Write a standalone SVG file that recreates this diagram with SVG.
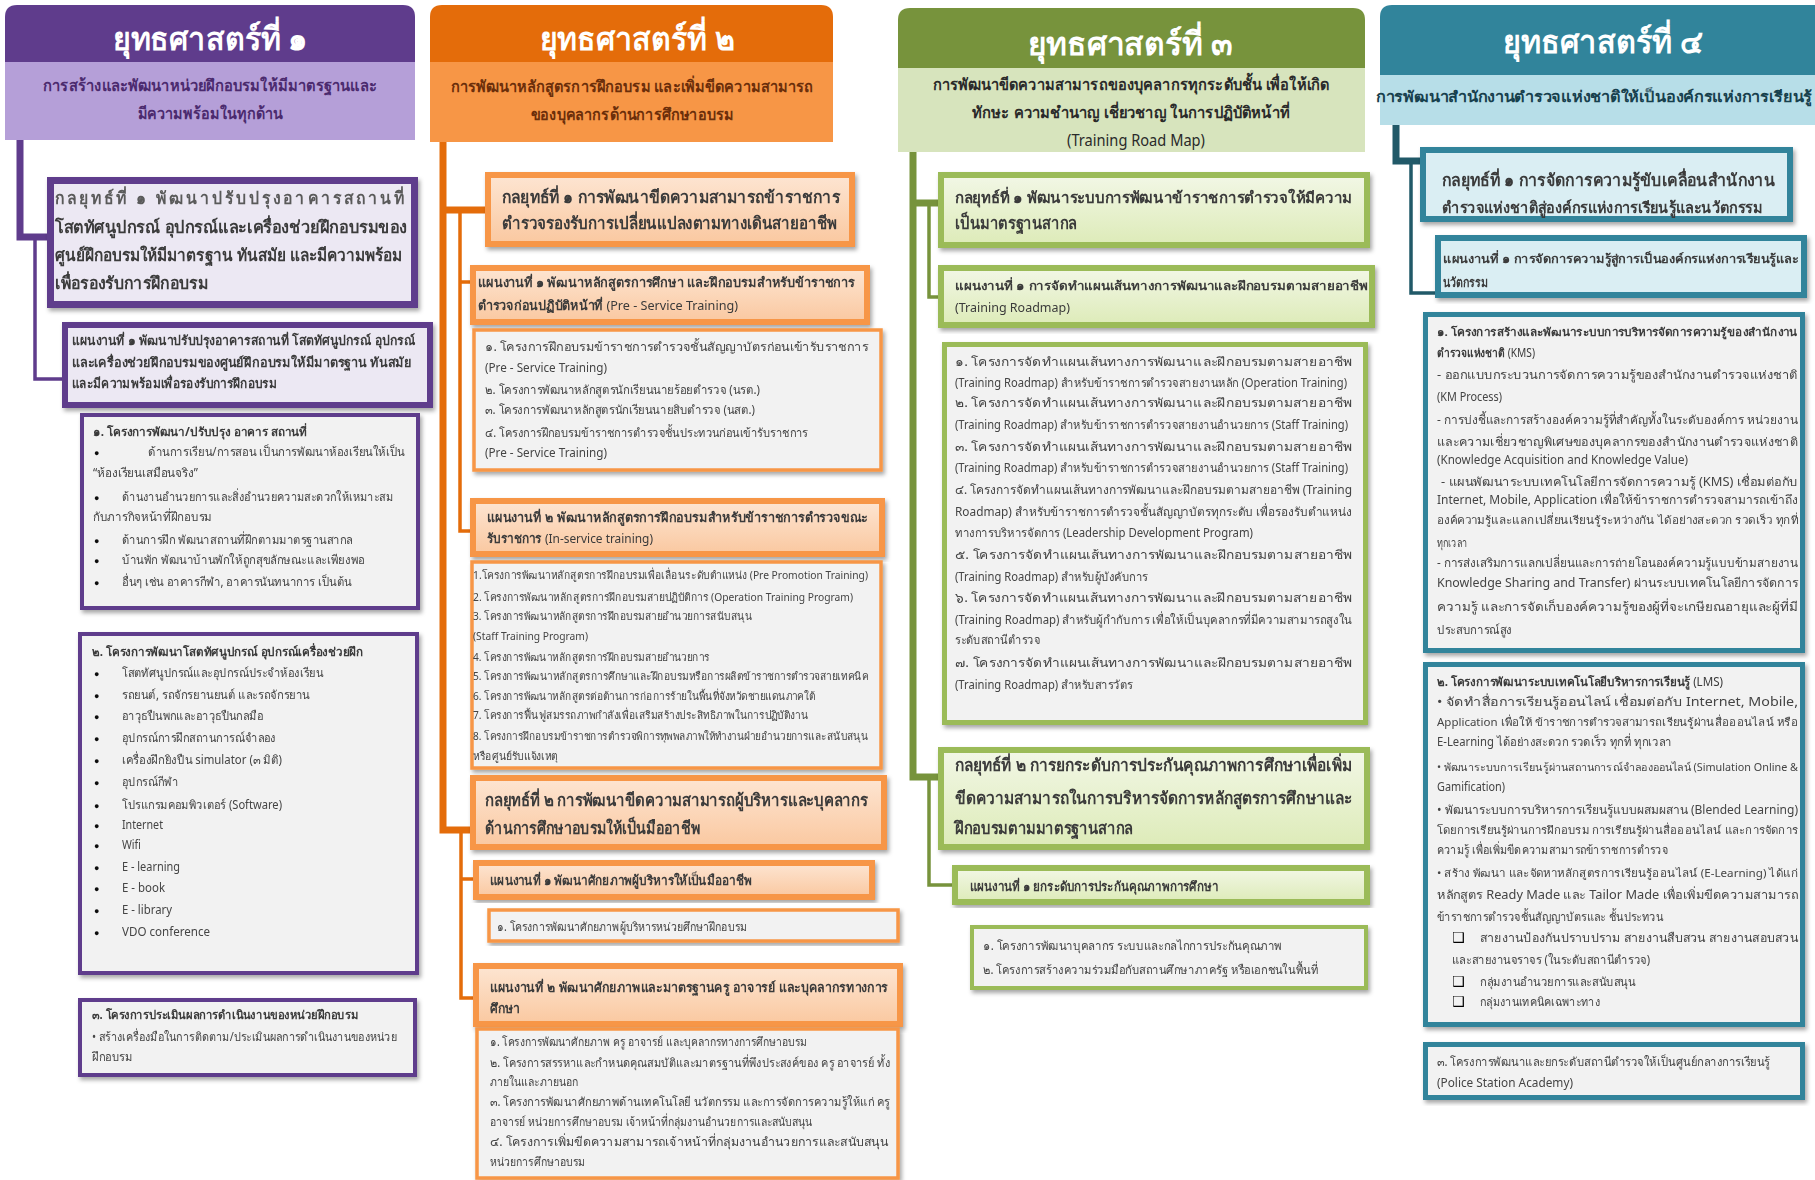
<svg xmlns="http://www.w3.org/2000/svg" width="1815" height="1180" viewBox="0 0 1815 1180">
<defs>
<filter id="sh" x="-5%" y="-10%" width="112%" height="125%"><feDropShadow dx="2" dy="3" stdDeviation="2" flood-color="#000" flood-opacity="0.35"/></filter>
<linearGradient id="gOr" x1="0" y1="0" x2="0" y2="1"><stop offset="0" stop-color="#FDE5D2"/><stop offset="1" stop-color="#FAC8A0"/></linearGradient>
<linearGradient id="gGr" x1="0" y1="0" x2="0" y2="1"><stop offset="0" stop-color="#F2F7E6"/><stop offset="1" stop-color="#DDEBB8"/></linearGradient>
<style>
text{font-family:"Noto Sans","Liberation Sans","DejaVu Sans",sans-serif;fill:#333}
.ttl{font-size:32px;font-weight:bold;fill:#fff;text-anchor:middle}
.sub{font-size:16px;font-weight:bold;text-anchor:middle}
.st{font-size:17px;font-weight:bold;fill:#3a3a3a}
.pl{font-size:13px;font-weight:bold;fill:#3a3a3a}
.it{font-size:12px;fill:#444}
.it11{font-size:11px;fill:#444}
.ith{font-size:12px;font-weight:bold;fill:#3a3a3a}
.bu{font-size:9px;fill:#111}
.cb{font-size:14px;fill:#000}
.p1{fill:#5F3C8C}.l1{fill:#B59FD8}
.p2{fill:#E46C0A}.l2{fill:#F79646}
.p3{fill:#77933C}.l3{fill:#D7E4BD}
.p4{fill:#31849B}.l4{fill:#B7DEE8}
.b1s{fill:#ECE8F3;stroke:#5F3C8C;stroke-width:7}
.b1p{fill:#ECE8F3;stroke:#5F3C8C;stroke-width:6}
.b1i{fill:#F2F2F2;stroke:#5F3C8C;stroke-width:4}
.b2s{fill:url(#gOr);stroke:#F79646;stroke-width:6}
.b2i{fill:#F2F2F2;stroke:#F79646;stroke-width:3.5}
.b3s{fill:url(#gGr);stroke:#9BBB59;stroke-width:6}
.b3i{fill:#F2F2F2;stroke:#9BBB59;stroke-width:5}
.b4s{fill:#DAEEF3;stroke:#31849B;stroke-width:6}
.b4i{fill:#F2F2F2;stroke:#31849B;stroke-width:5}
.c{fill:none;stroke-linejoin:miter}
</style>
</defs>
<rect width="1815" height="1180" fill="#fff"/>

<g id="connectors">
<path class="c" d="M20,140 V237 H50" stroke="#5F3C8C" stroke-width="7"/>
<path class="c" d="M35,237 V379 H65" stroke="#5F3C8C" stroke-width="3.5"/>
<path class="c" d="M443,142 V830 H473 M443,210 H488" stroke="#E46C0A" stroke-width="7"/>
<path class="c" d="M460,210 V531 H473 M460,282 H473" stroke="#E46C0A" stroke-width="3.5"/>
<path class="c" d="M461,830 V998 H476 M461,879 H476" stroke="#E46C0A" stroke-width="3.5"/>
<path class="c" d="M913,152 V777 H941 M913,203 H941" stroke="#77933C" stroke-width="7"/>
<path class="c" d="M929,203 V297 H941" stroke="#77933C" stroke-width="3.5"/>
<path class="c" d="M929,777 V885 H955" stroke="#77933C" stroke-width="3.5"/>
<path class="c" d="M1396,125 V161 H1423" stroke="#215968" stroke-width="7"/>
<path class="c" d="M1411,161 V293 H1438" stroke="#215968" stroke-width="3.5"/>
</g>

<!-- Column 1 -->
<g id="s1-header">
<path class="p1" d="M5,62 V17 Q5,5 17,5 H403 Q415,5 415,17 V62 Z"/>
<rect class="l1" x="5" y="62" width="410" height="78"/>
<text class="ttl" x="210" y="50" textLength="195" lengthAdjust="spacingAndGlyphs">ยุทธศาสตร์ที่ ๑</text>
<text class="sub" x="210" y="91" style="fill:#4B2A6E" textLength="334" lengthAdjust="spacingAndGlyphs">การสร้างและพัฒนาหน่วยฝึกอบรมให้มีมาตรฐานและ</text>
<text class="sub" x="210" y="119" style="fill:#4B2A6E" textLength="145" lengthAdjust="spacingAndGlyphs">มีความพร้อมในทุกด้าน</text>
</g>
<g id="s1-strategy1" filter="url(#sh)">
<rect class="b1s" x="50.5" y="180.5" width="364" height="124"/>
<text class="st" x="55" y="204" style="fill:#5a5a5a;letter-spacing:3px" textLength="352" lengthAdjust="spacingAndGlyphs">กลยุทธ์ที่ ๑ พัฒนาปรับปรุงอาคารสถานที่</text>
<text class="st" x="55" y="233" textLength="352" lengthAdjust="spacingAndGlyphs">โสตทัศนูปกรณ์ อุปกรณ์และเครื่องช่วยฝึกอบรมของ</text>
<text class="st" x="55" y="261" textLength="347" lengthAdjust="spacingAndGlyphs">ศูนย์ฝึกอบรมให้มีมาตรฐาน ทันสมัย และมีความพร้อม</text>
<text class="st" x="55" y="289" textLength="153" lengthAdjust="spacingAndGlyphs">เพื่อรองรับการฝึกอบรม</text>
</g>
<g id="s1-plan1" filter="url(#sh)">
<rect class="b1p" x="65" y="325" width="365" height="80"/>
<text class="pl" x="72" y="345" textLength="343" lengthAdjust="spacingAndGlyphs">แผนงานที่ ๑ พัฒนาปรับปรุงอาคารสถานที่ โสตทัศนูปกรณ์ อุปกรณ์</text>
<text class="pl" x="72" y="367" textLength="340" lengthAdjust="spacingAndGlyphs">และเครื่องช่วยฝึกอบรมของศูนย์ฝึกอบรมให้มีมาตรฐาน ทันสมัย</text>
<text class="pl" x="72" y="388" textLength="205" lengthAdjust="spacingAndGlyphs">และมีความพร้อมเพื่อรองรับการฝึกอบรม</text>
</g>
<g id="s1-project1" filter="url(#sh)">
<rect class="b1i" x="82" y="415" width="336" height="193"/>
<text class="ith" x="93" y="436" textLength="214" lengthAdjust="spacingAndGlyphs">๑. โครงการพัฒนา/ปรับปรุง อาคาร สถานที่</text>
<text class="bu" x="94" y="456">●</text><text class="it" x="148" y="456" textLength="257" lengthAdjust="spacingAndGlyphs">ด้านการเรียน/การสอน เป็นการพัฒนาห้องเรียนให้เป็น</text>
<text class="it" x="93" y="477" textLength="105" lengthAdjust="spacingAndGlyphs">“ห้องเรียนเสมือนจริง”</text>
<text class="bu" x="94" y="501">●</text><text class="it" x="122" y="501" textLength="271" lengthAdjust="spacingAndGlyphs">ด้านงานอำนวยการและสิ่งอำนวยความสะดวกให้เหมาะสม</text>
<text class="it" x="93" y="521" textLength="119" lengthAdjust="spacingAndGlyphs">กับภารกิจหน้าที่ฝึกอบรม</text>
<text class="bu" x="94" y="544">●</text><text class="it" x="122" y="544" textLength="231" lengthAdjust="spacingAndGlyphs">ด้านการฝึก  พัฒนาสถานที่ฝึกตามมาตรฐานสากล</text>
<text class="bu" x="94" y="564">●</text><text class="it" x="122" y="564" textLength="243" lengthAdjust="spacingAndGlyphs">บ้านพัก พัฒนาบ้านพักให้ถูกสุขลักษณะและเพียงพอ</text>
<text class="bu" x="94" y="586">●</text><text class="it" x="122" y="586" textLength="230" lengthAdjust="spacingAndGlyphs">อื่นๆ เช่น อาคารกีฬา, อาคารนันทนาการ เป็นต้น</text>
</g>
<g id="s1-project2" filter="url(#sh)">
<rect class="b1i" x="80" y="634" width="337" height="339"/>
<text class="ith" x="92" y="656" textLength="271" lengthAdjust="spacingAndGlyphs">๒. โครงการพัฒนาโสตทัศนูปกรณ์ อุปกรณ์เครื่องช่วยฝึก</text>
<text class="bu" x="94" y="677">●</text><text class="it" x="122" y="677" textLength="201" lengthAdjust="spacingAndGlyphs">โสตทัศนูปกรณ์และอุปกรณ์ประจำห้องเรียน</text>
<text class="bu" x="94" y="699">●</text><text class="it" x="122" y="699" textLength="188" lengthAdjust="spacingAndGlyphs">รถยนต์, รถจักรยานยนต์ และรถจักรยาน</text>
<text class="bu" x="94" y="720">●</text><text class="it" x="122" y="720" textLength="141" lengthAdjust="spacingAndGlyphs">อาวุธปืนพกและอาวุธปืนกลมือ</text>
<text class="bu" x="94" y="742">●</text><text class="it" x="122" y="742" textLength="154" lengthAdjust="spacingAndGlyphs">อุปกรณ์การฝึกสถานการณ์จำลอง</text>
<text class="bu" x="94" y="764">●</text><text class="it" x="122" y="764" textLength="160" lengthAdjust="spacingAndGlyphs">เครื่องฝึกยิงปืน simulator (๓ มิติ)</text>
<text class="bu" x="94" y="786">●</text><text class="it" x="122" y="786" textLength="56" lengthAdjust="spacingAndGlyphs">อุปกรณ์กีฬา</text>
<text class="bu" x="94" y="809">●</text><text class="it" x="122" y="809" textLength="160" lengthAdjust="spacingAndGlyphs">โปรแกรมคอมพิวเตอร์ (Software)</text>
<text class="bu" x="94" y="829">●</text><text class="it" x="122" y="829" textLength="41" lengthAdjust="spacingAndGlyphs">Internet</text>
<text class="bu" x="94" y="849">●</text><text class="it" x="122" y="849" textLength="19" lengthAdjust="spacingAndGlyphs">Wifi</text>
<text class="bu" x="94" y="871">●</text><text class="it" x="122" y="871" textLength="58" lengthAdjust="spacingAndGlyphs">E - learning</text>
<text class="bu" x="94" y="892">●</text><text class="it" x="122" y="892" textLength="43" lengthAdjust="spacingAndGlyphs">E - book</text>
<text class="bu" x="94" y="914">●</text><text class="it" x="122" y="914" textLength="50" lengthAdjust="spacingAndGlyphs">E - library</text>
<text class="bu" x="94" y="936">●</text><text class="it" x="122" y="936" textLength="88" lengthAdjust="spacingAndGlyphs">VDO conference</text>
</g>
<g id="s1-project3" filter="url(#sh)">
<rect class="b1i" x="80" y="1000" width="335" height="75"/>
<text class="ith" x="92" y="1019" textLength="266" lengthAdjust="spacingAndGlyphs">๓. โครงการประเมินผลการดำเนินงานของหน่วยฝึกอบรม</text>
<text class="it" x="92" y="1041" textLength="305" lengthAdjust="spacingAndGlyphs">• สร้างเครื่องมือในการติดตาม/ประเมินผลการดำเนินงานของหน่วย</text>
<text class="it" x="92" y="1061" textLength="40" lengthAdjust="spacingAndGlyphs">ฝึกอบรม</text>
</g>

<!-- Column 2 -->
<g id="s2-header">
<path class="p2" d="M430,62 V17 Q430,5 442,5 H821 Q833,5 833,17 V62 Z"/>
<rect class="l2" x="430" y="62" width="403" height="80"/>
<text class="ttl" x="637" y="50" textLength="195" lengthAdjust="spacingAndGlyphs">ยุทธศาสตร์ที่ ๒</text>
<text class="sub" x="632" y="92" style="fill:#6B2E0A" textLength="363" lengthAdjust="spacingAndGlyphs">การพัฒนาหลักสูตรการฝึกอบรม และเพิ่มขีดความสามารถ</text>
<text class="sub" x="632" y="120" style="fill:#6B2E0A" textLength="203" lengthAdjust="spacingAndGlyphs">ของบุคลากรด้านการศึกษาอบรม</text>
</g>
<g id="s2-strategy1" filter="url(#sh)">
<rect class="b2s" x="488" y="175" width="364" height="69"/>
<text class="st" x="502" y="203" textLength="338" lengthAdjust="spacingAndGlyphs">กลยุทธ์ที่ ๑ การพัฒนาขีดความสามารถข้าราชการ</text>
<text class="st" x="502" y="229" textLength="335" lengthAdjust="spacingAndGlyphs">ตำรวจรองรับการเปลี่ยนแปลงตามทางเดินสายอาชีพ</text>
</g>
<g id="s2-plan1" filter="url(#sh)">
<rect class="b2s" x="473" y="268" width="394" height="54"/>
<text class="pl" x="478" y="287" textLength="377" lengthAdjust="spacingAndGlyphs">แผนงานที่ ๑ พัฒนาหลักสูตรการศึกษา และฝึกอบรมสำหรับข้าราชการ</text>
<text class="pl" x="478" y="310" textLength="260" lengthAdjust="spacingAndGlyphs">ตำรวจก่อนปฏิบัติหน้าที่ <tspan style="font-weight:normal">(Pre - Service Training)</tspan></text>
</g>
<g id="s2-projects1" filter="url(#sh)">
<rect class="b2i" x="474" y="330" width="407" height="140"/>
<text class="it" x="485" y="351" textLength="383" lengthAdjust="spacingAndGlyphs">๑. โครงการฝึกอบรมข้าราชการตำรวจชั้นสัญญาบัตรก่อนเข้ารับราชการ</text>
<text class="it" x="485" y="372" textLength="122" lengthAdjust="spacingAndGlyphs">(Pre - Service Training)</text>
<text class="it" x="485" y="394" textLength="275" lengthAdjust="spacingAndGlyphs">๒. โครงการพัฒนาหลักสูตรนักเรียนนายร้อยตำรวจ (นรต.)</text>
<text class="it" x="485" y="414" textLength="270" lengthAdjust="spacingAndGlyphs">๓. โครงการพัฒนาหลักสูตรนักเรียนนายสิบตำรวจ (นสต.)</text>
<text class="it" x="485" y="437" textLength="323" lengthAdjust="spacingAndGlyphs">๔. โครงการฝึกอบรมข้าราชการตำรวจชั้นประทวนก่อนเข้ารับราชการ</text>
<text class="it" x="485" y="457" textLength="122" lengthAdjust="spacingAndGlyphs">(Pre - Service Training)</text>
</g>
<g id="s2-plan2" filter="url(#sh)">
<rect class="b2s" x="473" y="501" width="409" height="53"/>
<text class="pl" x="487" y="522" textLength="381" lengthAdjust="spacingAndGlyphs">แผนงานที่ ๒ พัฒนาหลักสูตรการฝึกอบรมสำหรับข้าราชการตำรวจขณะ</text>
<text class="pl" x="487" y="543" textLength="166" lengthAdjust="spacingAndGlyphs">รับราชการ <tspan style="font-weight:normal">(In-service training)</tspan></text>
</g>
<g id="s2-projects2" filter="url(#sh)">
<rect class="b2i" x="472" y="562" width="409" height="206"/>
<text class="it11" x="473" y="579" textLength="395" lengthAdjust="spacingAndGlyphs">1.โครงการพัฒนาหลักสูตรการฝึกอบรมเพื่อเลื่อนระดับตำแหน่ง (Pre Promotion Training)</text>
<text class="it11" x="473" y="601" textLength="380" lengthAdjust="spacingAndGlyphs">2. โครงการพัฒนาหลักสูตรการฝึกอบรมสายปฏิบัติการ (Operation Training Program)</text>
<text class="it11" x="473" y="620" textLength="279" lengthAdjust="spacingAndGlyphs">3. โครงการพัฒนาหลักสูตรการฝึกอบรมสายอำนวยการสนับสนุน</text>
<text class="it11" x="473" y="640" textLength="115" lengthAdjust="spacingAndGlyphs">(Staff Training Program)</text>
<text class="it11" x="473" y="661" textLength="237" lengthAdjust="spacingAndGlyphs">4. โครงการพัฒนาหลักสูตรการฝึกอบรมสายอำนวยการ</text>
<text class="it11" x="473" y="680" textLength="395" lengthAdjust="spacingAndGlyphs">5. โครงการพัฒนาหลักสูตรการศึกษาและฝึกอบรมหรือการผลิตข้าราชการตำรวจสายเทคนิค</text>
<text class="it11" x="473" y="700" textLength="342" lengthAdjust="spacingAndGlyphs">6. โครงการพัฒนาหลักสูตรต่อต้านการก่อการร้ายในพื้นที่จังหวัดชายแดนภาคใต้</text>
<text class="it11" x="473" y="719" textLength="335" lengthAdjust="spacingAndGlyphs">7. โครงการฟื้นฟูสมรรถภาพกำลังเพื่อเสริมสร้างประสิทธิภาพในการปฏิบัติงาน</text>
<text class="it11" x="473" y="740" textLength="395" lengthAdjust="spacingAndGlyphs">8. โครงการฝึกอบรมข้าราชการตำรวจพิการทุพพลภาพให้ทำงานฝ่ายอำนวยการและสนับสนุน</text>
<text class="it11" x="473" y="760" textLength="85" lengthAdjust="spacingAndGlyphs">หรือศูนย์รับแจ้งเหตุ</text>
</g>
<g id="s2-strategy2" filter="url(#sh)">
<rect class="b2s" x="473" y="778" width="411" height="69"/>
<text class="st" x="485" y="806" textLength="383" lengthAdjust="spacingAndGlyphs">กลยุทธ์ที่ ๒ การพัฒนาขีดความสามารถผู้บริหารและบุคลากร</text>
<text class="st" x="485" y="834" textLength="215" lengthAdjust="spacingAndGlyphs">ด้านการศึกษาอบรมให้เป็นมืออาชีพ</text>
</g>
<g id="s2-plan3" filter="url(#sh)">
<rect class="b2s" x="476" y="863" width="396" height="34"/>
<text class="pl" x="490" y="885" textLength="262" lengthAdjust="spacingAndGlyphs">แผนงานที่ ๑ พัฒนาศักยภาพผู้บริหารให้เป็นมืออาชีพ</text>
</g>
<g id="s2-projects3" filter="url(#sh)">
<rect class="b2i" x="489" y="910" width="409" height="31"/>
<text class="it" x="497" y="931" textLength="250" lengthAdjust="spacingAndGlyphs">๑. โครงการพัฒนาศักยภาพผู้บริหารหน่วยศึกษาฝึกอบรม</text>
</g>
<g id="s2-plan4" filter="url(#sh)">
<rect class="b2s" x="476" y="966" width="424" height="58"/>
<text class="pl" x="490" y="992" textLength="398" lengthAdjust="spacingAndGlyphs">แผนงานที่ ๒ พัฒนาศักยภาพและมาตรฐานครู อาจารย์  และบุคลากรทางการ</text>
<text class="pl" x="490" y="1013" textLength="30" lengthAdjust="spacingAndGlyphs">ศึกษา</text>
</g>
<g id="s2-projects4" filter="url(#sh)">
<rect class="b2i" x="477" y="1029" width="421" height="149"/>
<text class="it" x="490" y="1046" textLength="317" lengthAdjust="spacingAndGlyphs">๑. โครงการพัฒนาศักยภาพ ครู อาจารย์ และบุคลากรทางการศึกษาอบรม</text>
<text class="it" x="490" y="1067" textLength="400" lengthAdjust="spacingAndGlyphs">๒. โครงการสรรหาและกำหนดคุณสมบัติและมาตรฐานที่พึงประสงค์ของ ครู อาจารย์ ทั้ง</text>
<text class="it" x="490" y="1086" textLength="88" lengthAdjust="spacingAndGlyphs">ภายในและภายนอก</text>
<text class="it" x="490" y="1106" textLength="400" lengthAdjust="spacingAndGlyphs">๓. โครงการพัฒนาศักยภาพด้านเทคโนโลยี นวัตกรรม และการจัดการความรู้ให้แก่ ครู</text>
<text class="it" x="490" y="1126" textLength="322" lengthAdjust="spacingAndGlyphs">อาจารย์ หน่วยการศึกษาอบรม เจ้าหน้าที่กลุ่มงานอำนวยการและสนับสนุน</text>
<text class="it" x="490" y="1146" textLength="398" lengthAdjust="spacingAndGlyphs">๔. โครงการเพิ่มขีดความสามารถเจ้าหน้าที่กลุ่มงานอำนวยการและสนับสนุน</text>
<text class="it" x="490" y="1166" textLength="95" lengthAdjust="spacingAndGlyphs">หน่วยการศึกษาอบรม</text>
</g>

<!-- Column 3 -->
<g id="s3-header">
<path class="p3" d="M898,68 V20 Q898,8 910,8 H1353 Q1365,8 1365,20 V68 Z"/>
<rect class="l3" x="898" y="68" width="467" height="84"/>
<text class="ttl" x="1130" y="55" textLength="205" lengthAdjust="spacingAndGlyphs">ยุทธศาสตร์ที่ ๓</text>
<text class="sub" x="1131" y="90" style="fill:#2a2a2a" textLength="397" lengthAdjust="spacingAndGlyphs">การพัฒนาขีดความสามารถของบุคลากรทุกระดับชั้น เพื่อให้เกิด</text>
<text class="sub" x="1131" y="118" style="fill:#2a2a2a" textLength="318" lengthAdjust="spacingAndGlyphs">ทักษะ ความชำนาญ เชี่ยวชาญ ในการปฏิบัติหน้าที่</text>
<text class="sub" x="1136" y="146" style="fill:#2a2a2a;font-weight:normal" textLength="138" lengthAdjust="spacingAndGlyphs">(Training Road Map)</text>
</g>
<g id="s3-strategy1" filter="url(#sh)">
<rect class="b3s" x="941" y="175" width="426" height="70"/>
<text class="st" x="955" y="203" style="font-size:15.5px" textLength="397" lengthAdjust="spacingAndGlyphs">กลยุทธ์ที่ ๑ พัฒนาระบบการพัฒนาข้าราชการตำรวจให้มีความ</text>
<text class="st" x="955" y="229" textLength="122" lengthAdjust="spacingAndGlyphs">เป็นมาตรฐานสากล</text>
</g>
<g id="s3-plan1" filter="url(#sh)">
<rect class="b3s" x="941" y="268" width="431" height="57"/>
<text class="pl" x="955" y="290" style="font-size:12px" textLength="413" lengthAdjust="spacingAndGlyphs">แผนงานที่ ๑  การจัดทำแผนเส้นทางการพัฒนาและฝึกอบรมตามสายอาชีพ</text>
<text class="pl" x="955" y="312" style="font-weight:normal" textLength="115" lengthAdjust="spacingAndGlyphs">(Training Roadmap)</text>
</g>
<g id="s3-projects1" filter="url(#sh)">
<rect class="b3i" x="944.5" y="344.5" width="421" height="378"/>
<text class="it" x="955" y="366" textLength="397" lengthAdjust="spacingAndGlyphs">๑. โครงการจัดทำแผนเส้นทางการพัฒนาและฝึกอบรมตามสายอาชีพ</text>
<text class="it" x="955" y="387" textLength="392" lengthAdjust="spacingAndGlyphs">(Training Roadmap) สำหรับข้าราชการตำรวจสายงานหลัก (Operation Training)</text>
<text class="it" x="955" y="407" textLength="397" lengthAdjust="spacingAndGlyphs">๒. โครงการจัดทำแผนเส้นทางการพัฒนาและฝึกอบรมตามสายอาชีพ</text>
<text class="it" x="955" y="429" textLength="393" lengthAdjust="spacingAndGlyphs">(Training Roadmap) สำหรับข้าราชการตำรวจสายงานอำนวยการ (Staff Training)</text>
<text class="it" x="955" y="451" textLength="397" lengthAdjust="spacingAndGlyphs">๓. โครงการจัดทำแผนเส้นทางการพัฒนาและฝึกอบรมตามสายอาชีพ</text>
<text class="it" x="955" y="472" textLength="393" lengthAdjust="spacingAndGlyphs">(Training Roadmap) สำหรับข้าราชการตำรวจสายงานอำนวยการ (Staff Training)</text>
<text class="it" x="955" y="494" textLength="397" lengthAdjust="spacingAndGlyphs">๔. โครงการจัดทำแผนเส้นทางการพัฒนาและฝึกอบรมตามสายอาชีพ (Training</text>
<text class="it" x="955" y="516" textLength="397" lengthAdjust="spacingAndGlyphs">Roadmap) สำหรับข้าราชการตำรวจชั้นสัญญาบัตรทุกระดับ  เพื่อรองรับตำแหน่ง</text>
<text class="it" x="955" y="537" textLength="298" lengthAdjust="spacingAndGlyphs">ทางการบริหารจัดการ (Leadership Development Program)</text>
<text class="it" x="955" y="559" textLength="397" lengthAdjust="spacingAndGlyphs">๕. โครงการจัดทำแผนเส้นทางการพัฒนาและฝึกอบรมตามสายอาชีพ</text>
<text class="it" x="955" y="581" textLength="193" lengthAdjust="spacingAndGlyphs">(Training Roadmap) สำหรับผู้บังคับการ</text>
<text class="it" x="955" y="602" textLength="397" lengthAdjust="spacingAndGlyphs">๖. โครงการจัดทำแผนเส้นทางการพัฒนาและฝึกอบรมตามสายอาชีพ</text>
<text class="it" x="955" y="624" textLength="397" lengthAdjust="spacingAndGlyphs">(Training  Roadmap) สำหรับผู้กำกับการ เพื่อให้เป็นบุคลากรที่มีความสามารถสูงใน</text>
<text class="it" x="955" y="644" textLength="85" lengthAdjust="spacingAndGlyphs">ระดับสถานีตำรวจ</text>
<text class="it" x="955" y="667" textLength="397" lengthAdjust="spacingAndGlyphs">๗. โครงการจัดทำแผนเส้นทางการพัฒนาและฝึกอบรมตามสายอาชีพ</text>
<text class="it" x="955" y="689" textLength="178" lengthAdjust="spacingAndGlyphs">(Training Roadmap) สำหรับสารวัตร</text>
</g>
<g id="s3-strategy2" filter="url(#sh)">
<rect class="b3s" x="941" y="750" width="426" height="97"/>
<text class="st" x="955" y="771" textLength="397" lengthAdjust="spacingAndGlyphs">กลยุทธ์ที่ ๒ การยกระดับการประกันคุณภาพการศึกษาเพื่อเพิ่ม</text>
<text class="st" x="955" y="804" textLength="397" lengthAdjust="spacingAndGlyphs">ขีดความสามารถในการบริหารจัดการหลักสูตรการศึกษาและ</text>
<text class="st" x="955" y="834" textLength="178" lengthAdjust="spacingAndGlyphs">ฝึกอบรมตามมาตรฐานสากล</text>
</g>
<g id="s3-plan2" filter="url(#sh)">
<rect class="b3s" x="955" y="868" width="412" height="34"/>
<text class="pl" x="970" y="891" textLength="248" lengthAdjust="spacingAndGlyphs">แผนงานที่ ๑ ยกระดับการประกันคุณภาพการศึกษา</text>
</g>
<g id="s3-projects2" filter="url(#sh)">
<rect class="b3i" x="972" y="927" width="394" height="61" style="stroke-width:4"/>
<text class="it" x="983" y="950" textLength="299" lengthAdjust="spacingAndGlyphs">๑. โครงการพัฒนาบุคลากร ระบบและกลไกการประกันคุณภาพ</text>
<text class="it" x="983" y="974" textLength="335" lengthAdjust="spacingAndGlyphs">๒. โครงการสร้างความร่วมมือกับสถานศึกษาภาครัฐ หรือเอกชนในพื้นที่</text>
</g>

<!-- Column 4 -->
<g id="s4-header">
<path class="p4" d="M1380,75 V17 Q1380,5 1392,5 H1815 V75 Z"/>
<rect class="l4" x="1380" y="75" width="435" height="50"/>
<text class="ttl" x="1603" y="53" textLength="200" lengthAdjust="spacingAndGlyphs">ยุทธศาสตร์ที่ ๔</text>
<text class="sub" x="1594" y="102" style="fill:#17404d;font-size:15px" textLength="436" lengthAdjust="spacingAndGlyphs">การพัฒนาสำนักงานตำรวจแห่งชาติให้เป็นองค์กรแห่งการเรียนรู้</text>
</g>
<g id="s4-strategy1" filter="url(#sh)">
<rect class="b4s" x="1423" y="150" width="367" height="69"/>
<text class="st" x="1442" y="186" textLength="333" lengthAdjust="spacingAndGlyphs">กลยุทธ์ที่ ๑ การจัดการความรู้ขับเคลื่อนสำนักงาน</text>
<text class="st" x="1442" y="213" style="font-size:15.5px" textLength="320" lengthAdjust="spacingAndGlyphs">ตำรวจแห่งชาติสู่องค์กรแห่งการเรียนรู้และนวัตกรรม</text>
</g>
<g id="s4-plan1" filter="url(#sh)">
<rect class="b4s" x="1438" y="238" width="366" height="57"/>
<text class="pl" x="1443" y="263" style="font-size:12px" textLength="355" lengthAdjust="spacingAndGlyphs">แผนงานที่ ๑ การจัดการความรู้สู่การเป็นองค์กรแห่งการเรียนรู้และ</text>
<text class="pl" x="1443" y="287" textLength="45" lengthAdjust="spacingAndGlyphs">นวัตกรรม</text>
</g>
<g id="s4-projects1" filter="url(#sh)">
<rect class="b4i" x="1425.5" y="314.5" width="377" height="336"/>
<text class="ith" x="1437" y="336" style="font-size:11px" textLength="361" lengthAdjust="spacingAndGlyphs">๑. โครงการสร้างและพัฒนาระบบการบริหารจัดการความรู้ของสำนักงาน</text>
<text class="ith" x="1437" y="357" textLength="98" lengthAdjust="spacingAndGlyphs">ตำรวจแห่งชาติ <tspan style="font-weight:normal">(KMS)</tspan></text>
<text class="it" x="1437" y="379" textLength="361" lengthAdjust="spacingAndGlyphs">- ออกแบบกระบวนการจัดการความรู้ของสำนักงานตำรวจแห่งชาติ</text>
<text class="it" x="1437" y="401" textLength="65" lengthAdjust="spacingAndGlyphs">(KM Process)</text>
<text class="it" x="1437" y="424" textLength="361" lengthAdjust="spacingAndGlyphs">- การบ่งชี้และการสร้างองค์ความรู้ที่สำคัญทั้งในระดับองค์การ หน่วยงาน</text>
<text class="it" x="1437" y="446" textLength="361" lengthAdjust="spacingAndGlyphs">และความเชี่ยวชาญพิเศษของบุคลากรของสำนักงานตำรวจแห่งชาติ</text>
<text class="it" x="1437" y="464" textLength="251" lengthAdjust="spacingAndGlyphs">(Knowledge Acquisition and Knowledge Value)</text>
<text class="it" x="1441" y="486" textLength="357" lengthAdjust="spacingAndGlyphs">- แผนพัฒนาระบบเทคโนโลยีการจัดการความรู้ (KMS)        เชื่อมต่อกับ</text>
<text class="it" x="1437" y="504" textLength="361" lengthAdjust="spacingAndGlyphs">Internet, Mobile, Application  เพื่อให้ข้าราชการตำรวจสามารถเข้าถึง</text>
<text class="it" x="1437" y="524" style="font-size:11px" textLength="361" lengthAdjust="spacingAndGlyphs">องค์ความรู้และแลกเปลี่ยนเรียนรู้ระหว่างกัน ได้อย่างสะดวก รวดเร็ว ทุกที่</text>
<text class="it" x="1437" y="547" textLength="30" lengthAdjust="spacingAndGlyphs">ทุกเวลา</text>
<text class="it" x="1437" y="567" textLength="361" lengthAdjust="spacingAndGlyphs">- การส่งเสริมการแลกเปลี่ยนและการถ่ายโอนองค์ความรู้แบบข้ามสายงาน</text>
<text class="it" x="1437" y="587" textLength="361" lengthAdjust="spacingAndGlyphs">Knowledge  Sharing  and  Transfer) ผ่านระบบเทคโนโลยีการจัดการ</text>
<text class="it" x="1437" y="611" textLength="361" lengthAdjust="spacingAndGlyphs">ความรู้ และการจัดเก็บองค์ความรู้ของผู้ที่จะเกษียณอายุและผู้ที่มี</text>
<text class="it" x="1437" y="634" textLength="75" lengthAdjust="spacingAndGlyphs">ประสบการณ์สูง</text>
</g>
<g id="s4-projects2" filter="url(#sh)">
<rect class="b4i" x="1425.5" y="664.5" width="377" height="360"/>
<text class="ith" x="1437" y="686" textLength="286" lengthAdjust="spacingAndGlyphs">๒. โครงการพัฒนาระบบเทคโนโลยีบริหารการเรียนรู้ <tspan style="font-weight:normal">(LMS)</tspan></text>
<text class="it" x="1437" y="706" textLength="361" lengthAdjust="spacingAndGlyphs">• จัดทำสื่อการเรียนรู้ออนไลน์ เชื่อมต่อกับ Internet,          Mobile,</text>
<text class="it" x="1437" y="726" style="font-size:11px" textLength="361" lengthAdjust="spacingAndGlyphs">Application  เพื่อให้ ข้าราชการตำรวจสามารถเรียนรู้ผ่านสื่อออนไลน์ หรือ</text>
<text class="it" x="1437" y="746" textLength="235" lengthAdjust="spacingAndGlyphs">E-Learning ได้อย่างสะดวก รวดเร็ว ทุกที่ ทุกเวลา</text>
<text class="it" x="1437" y="771" style="font-size:10.5px" textLength="361" lengthAdjust="spacingAndGlyphs">• พัฒนาระบบการเรียนรู้ผ่านสถานการณ์จำลองออนไลน์ (Simulation Online &amp;</text>
<text class="it" x="1437" y="791" textLength="68" lengthAdjust="spacingAndGlyphs">Gamification)</text>
<text class="it" x="1437" y="814" textLength="361" lengthAdjust="spacingAndGlyphs">• พัฒนาระบบการบริหารการเรียนรู้แบบผสมผสาน (Blended  Learning)</text>
<text class="it" x="1437" y="834" style="font-size:11px" textLength="361" lengthAdjust="spacingAndGlyphs">โดยการเรียนรู้ผ่านการฝึกอบรม การเรียนรู้ผ่านสื่อออนไลน์ และการจัดการ</text>
<text class="it" x="1437" y="854" textLength="231" lengthAdjust="spacingAndGlyphs">ความรู้ เพื่อเพิ่มขีดความสามารถข้าราชการตำรวจ</text>
<text class="it" x="1437" y="877" style="font-size:11px" textLength="361" lengthAdjust="spacingAndGlyphs">• สร้าง พัฒนา และจัดหาหลักสูตรการเรียนรู้ออนไลน์ (E-Learning) ได้แก่</text>
<text class="it" x="1437" y="899" textLength="361" lengthAdjust="spacingAndGlyphs">หลักสูตร Ready  Made  และ Tailor  Made  เพื่อเพิ่มขีดความสามารถ</text>
<text class="it" x="1437" y="921" textLength="226" lengthAdjust="spacingAndGlyphs">ข้าราชการตำรวจชั้นสัญญาบัตรและ ชั้นประทวน</text>
<text class="cb" x="1452" y="942">❑</text><text class="it" x="1480" y="942" textLength="318" lengthAdjust="spacingAndGlyphs">สายงานป้องกันปราบปราม สายงานสืบสวน สายงานสอบสวน</text>
<text class="it" x="1452" y="964" textLength="198" lengthAdjust="spacingAndGlyphs">และสายงานจราจร (ในระดับสถานีตำรวจ)</text>
<text class="cb" x="1452" y="986">❑</text><text class="it" x="1480" y="986" textLength="155" lengthAdjust="spacingAndGlyphs">กลุ่มงานอำนวยการและสนับสนุน</text>
<text class="cb" x="1452" y="1006">❑</text><text class="it" x="1480" y="1006" textLength="120" lengthAdjust="spacingAndGlyphs">กลุ่มงานเทคนิคเฉพาะทาง</text>
</g>
<g id="s4-projects3" filter="url(#sh)">
<rect class="b4i" x="1425.5" y="1044.5" width="377" height="53"/>
<text class="it" x="1437" y="1066" textLength="333" lengthAdjust="spacingAndGlyphs">๓. โครงการพัฒนาและยกระดับสถานีตำรวจให้เป็นศูนย์กลางการเรียนรู้</text>
<text class="it" x="1437" y="1087" textLength="136" lengthAdjust="spacingAndGlyphs">(Police Station Academy)</text>
</g>
</svg>
